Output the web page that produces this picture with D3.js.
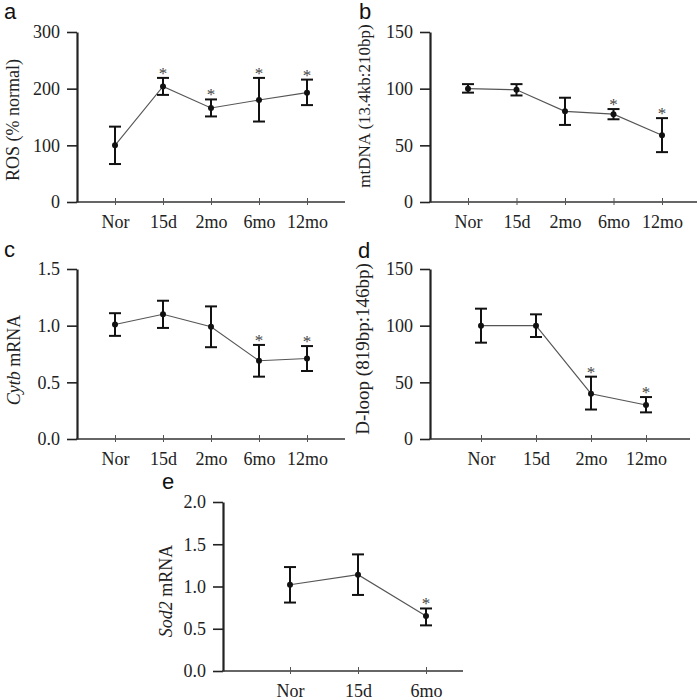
<!DOCTYPE html>
<html>
<head>
<meta charset="utf-8">
<script src="https://cdn.jsdelivr.net/npm/d3@7"></script>
<style>
  html, body { margin: 0; padding: 0; background: #fff; }
  svg { display: block; }
  text { font-family: "Liberation Serif", "Times New Roman", serif; }
</style>
</head>
<body>
<svg id="chart" width="700" height="700"></svg>
<script>
// ---------- DATA ----------
const catsA = ["Nor", "15d", "2mo", "6mo", "12mo"];
const rosMean = [100, 204, 166, 180, 193];
const rosLow  = [67, 189, 151, 142, 171];
const rosHigh = [133, 219, 181, 219, 216];
const rosSig  = [0, 1, 1, 1, 1];
const rosTicks = [0, 100, 200, 300];

const catsB = ["Nor", "15d", "2mo", "6mo", "12mo"];
const mtMean = [100, 99, 80, 77.5, 59];
const mtLow  = [96.5, 94, 68, 73, 44];
const mtHigh = [104, 104, 92, 82, 74];
const mtSig  = [0, 0, 0, 1, 1];
const mtTicks = [0, 50, 100, 150];

const catsC = ["Nor", "15d", "2mo", "6mo", "12mo"];
const cytbMean = [1.01, 1.10, 0.99, 0.69, 0.71];
const cytbLow  = [0.91, 0.98, 0.81, 0.55, 0.60];
const cytbHigh = [1.11, 1.22, 1.17, 0.83, 0.82];
const cytbSig  = [0, 0, 0, 1, 1];
const cytbTicks = [0, 0.5, 1.0, 1.5];

const catsD = ["Nor", "15d", "2mo", "12mo"];
const dloopMean = [100, 100, 40, 30];
const dloopLow  = [85, 90, 26, 23.5];
const dloopHigh = [115, 110, 55, 37];
const dloopSig  = [0, 0, 1, 1];
const dloopTicks = [0, 50, 100, 150];

const catsE = ["Nor", "15d", "6mo"];
const sodMean = [1.02, 1.14, 0.65];
const sodLow  = [0.81, 0.90, 0.54];
const sodHigh = [1.23, 1.38, 0.74];
const sodSig  = [0, 0, 1];
const sodTicks = [0, 0.5, 1.0, 1.5, 2.0];

// ---------- LAYOUT ----------
const panels = [
  { letter: "a", lx: 4, ly: 19, cats: catsA, mean: rosMean, low: rosLow, high: rosHigh, sig: rosSig,
    ticks: rosTicks, fmt: d3.format("d"), max: 300,
    x0: 77, x1: 345, r0: 115, r1: 307, yTop: 32, yBot: 202,
    label: [{t: "ROS (% normal)", i: false}], labX: 19, labY: 120, labFS: 18 },
  { letter: "b", lx: 359, ly: 19, cats: catsB, mean: mtMean, low: mtLow, high: mtHigh, sig: mtSig,
    ticks: mtTicks, fmt: d3.format("d"), max: 150,
    x0: 430, x1: 697, r0: 468, r1: 662, yTop: 32, yBot: 202,
    label: [{t: "mtDNA (13.4kb:210bp)", i: false}], labX: 370, labY: 106, labFS: 17 },
  { letter: "c", lx: 4, ly: 257, cats: catsC, mean: cytbMean, low: cytbLow, high: cytbHigh, sig: cytbSig,
    ticks: cytbTicks, fmt: d3.format(".1f"), max: 1.5,
    x0: 77, x1: 345, r0: 115, r1: 307, yTop: 269, yBot: 439,
    label: [{t: "Cytb", i: true}, {t: " mRNA", i: false}], labX: 20, labY: 360, labFS: 18 },
  { letter: "d", lx: 358, ly: 258, cats: catsD, mean: dloopMean, low: dloopLow, high: dloopHigh, sig: dloopSig,
    ticks: dloopTicks, fmt: d3.format("d"), max: 150,
    x0: 430, x1: 690, r0: 481, r1: 646, yTop: 269, yBot: 439,
    label: [{t: "D-loop (819bp:146bp)", i: false}], labX: 369, labY: 349, labFS: 19 },
  { letter: "e", lx: 162, ly: 489, cats: catsE, mean: sodMean, low: sodLow, high: sodHigh, sig: sodSig,
    ticks: sodTicks, fmt: d3.format(".1f"), max: 2.0,
    x0: 223, x1: 463, r0: 290, r1: 426, yTop: 502, yBot: 671,
    label: [{t: "Sod2", i: true}, {t: " mRNA", i: false}], labX: 172, labY: 591, labFS: 18 }
];

const svg = d3.select("#chart");
const FS = 18;

panels.forEach(p => {
  const g = svg.append("g");
  const x = d3.scalePoint().domain(p.cats).range([p.r0, p.r1]);
  const y = d3.scaleLinear().domain([0, p.max]).range([p.yBot, p.yTop]);

  // panel letter
  g.append("text").attr("x", p.lx).attr("y", p.ly)
    .style("font-family", "'Liberation Sans', Arial, sans-serif")
    .style("font-size", "22px").attr("fill", "#111").text(p.letter);

  // y axis
  const ya = g.append("g").attr("transform", `translate(${p.x0},0)`)
    .call(d3.axisLeft(y).tickValues(p.ticks).tickFormat(p.fmt).tickSize(10).tickSizeOuter(0).tickPadding(7));
  ya.select(".domain").attr("stroke", "#222").attr("stroke-width", 2.2);
  ya.selectAll(".tick line").attr("stroke", "#222").attr("stroke-width", 1.6);
  ya.selectAll(".tick text").style("font-size", FS + "px").style("font-family", "'Liberation Serif', serif").attr("fill", "#222");

  // x axis line
  g.append("line").attr("x1", p.x0 - 1).attr("x2", p.x1).attr("y1", p.yBot).attr("y2", p.yBot)
    .attr("stroke", "#333").attr("stroke-width", 1.4);
  const xa = g.append("g").attr("transform", `translate(0,${p.yBot})`)
    .call(d3.axisBottom(x).tickSize(3).tickPadding(10));
  xa.select(".domain").remove();
  xa.selectAll(".tick line").attr("y1", -4).attr("stroke", "#555").attr("stroke-width", 1);
  xa.selectAll(".tick text").style("font-size", FS + "px").style("font-family", "'Liberation Serif', serif").attr("fill", "#222");

  // y label
  const lab = g.append("text")
    .attr("transform", `translate(${p.labX},${p.labY}) rotate(-90)`)
    .attr("text-anchor", "middle").style("font-size", p.labFS + "px").attr("fill", "#222");
  p.label.forEach(s => lab.append("tspan").style("font-style", s.i ? "italic" : "normal").text(s.t));

  const data = p.cats.map((c, i) => ({ c, m: p.mean[i], lo: p.low[i], hi: p.high[i], s: p.sig[i] }));

  // connecting line
  g.append("path").datum(data)
    .attr("d", d3.line().x(d => x(d.c)).y(d => y(d.m)))
    .attr("fill", "none").attr("stroke", "#555").attr("stroke-width", 1.1);

  // error bars
  const eb = g.selectAll(".eb").data(data).enter().append("g");
  eb.append("line").attr("x1", d => x(d.c)).attr("x2", d => x(d.c))
    .attr("y1", d => y(d.lo)).attr("y2", d => y(d.hi)).attr("stroke", "#111").attr("stroke-width", 2);
  eb.append("line").attr("x1", d => x(d.c) - 6).attr("x2", d => x(d.c) + 6)
    .attr("y1", d => y(d.hi)).attr("y2", d => y(d.hi)).attr("stroke", "#111").attr("stroke-width", 2);
  eb.append("line").attr("x1", d => x(d.c) - 6).attr("x2", d => x(d.c) + 6)
    .attr("y1", d => y(d.lo)).attr("y2", d => y(d.lo)).attr("stroke", "#111").attr("stroke-width", 2);
  eb.append("circle").attr("cx", d => x(d.c)).attr("cy", d => y(d.m)).attr("r", 3).attr("fill", "#111");

  // significance stars
  g.append("g").attr("opacity", 0.99)
    .selectAll(".star").data(data.filter(d => d.s)).enter().append("text")
    .attr("x", d => x(d.c)).attr("y", d => y(d.hi) + 1)
    .attr("text-anchor", "middle").style("font-size", "17px").attr("fill", "#444").text("*");
});
</script>
</body>
</html>
